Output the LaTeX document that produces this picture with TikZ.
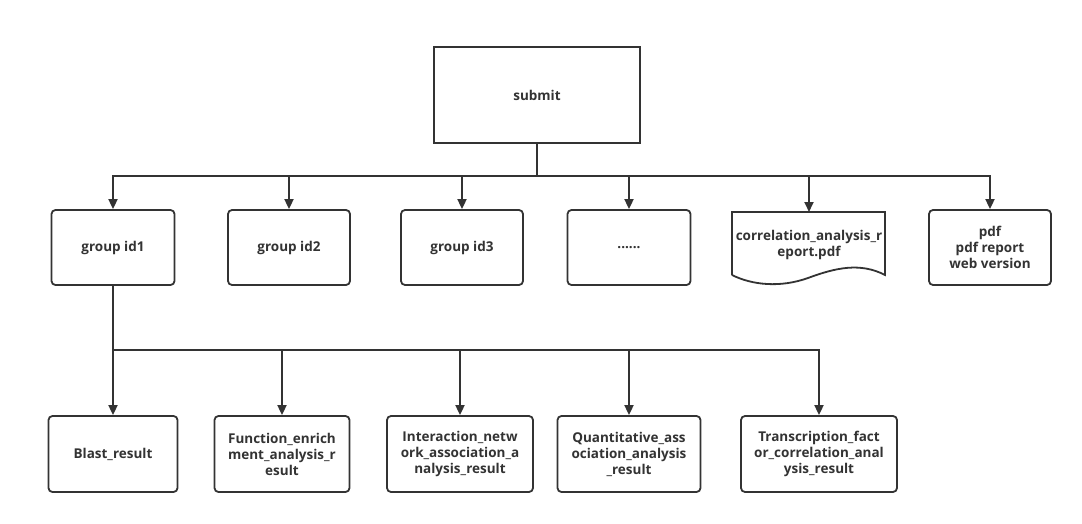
\documentclass[tikz,border=0pt]{standalone}
\usepackage{fontspec}
\setmainfont{Open Sans}
\usetikzlibrary{arrows.meta}
\definecolor{ink}{HTML}{333333}
\tikzset{
  txt/.style={font=\bfseries\fontsize{13.5}{16}\selectfont, text=ink},
  box/.style={draw=ink, line width=1.8pt, rounded corners=4pt, align=center, inner sep=1pt, txt},
  sq/.style={draw=ink, line width=1.8pt, align=center, txt},
  plain/.style={align=center, inner sep=0pt, txt},
  ln/.style={draw=ink, line width=1.8pt},
  arr/.style={ln, -{Triangle[length=10pt,width=9pt]}}
}
\begin{document}
\begin{tikzpicture}[x=1pt,y=-1pt]
\useasboundingbox (0,0) rectangle (1082,524);
\node[sq, minimum width=206pt, minimum height=96pt] (submit) at (537,95) {submit};
% row 1
\node[box, minimum width=123pt, minimum height=75pt] (g1) at (113,247.5) {group id1};
\node[box, minimum width=122pt, minimum height=75pt] (g2) at (289,247.5) {group id2};
\node[box, minimum width=122pt, minimum height=75pt] (g3) at (462,247.5) {group id3};
\node[box, minimum width=123pt, minimum height=75pt] (g4) at (629,247.5) {......};
\node[plain, minimum width=153pt, minimum height=71pt] (doc) at (809,247.5) {};
\node[plain] (doctext) at (809,245) {correlation\_analysis\_r\\eport.pdf};
\draw[ln] (732,275) -- (732,212) -- (885,212) -- (885,275)
  .. controls (860,262) and (835,268) .. (808,278)
  .. controls (780,288) and (752,285) .. (732,275);
\node[box, minimum width=122pt, minimum height=75pt] (pdf) at (990,247.5) {pdf\\pdf report\\web version};
% row 2
\node[box, minimum width=129pt, minimum height=76pt] (r1) at (113,454) {Blast\_result};
\node[box, minimum width=135pt, minimum height=76pt] (r2) at (282,454) {Function\_enrich\\ment\_analysis\_r\\esult};
\node[box, minimum width=146pt, minimum height=76pt] (r3) at (460,454) {Interaction\_netw\\ork\_association\_a\\nalysis\_result};
\node[box, minimum width=143pt, minimum height=76pt] (r4) at (629,454) {Quantitative\_ass\\ociation\_analysis\\\_result};
\node[box, minimum width=156pt, minimum height=76pt] (r5) at (819,454) {Transcription\_fact\\or\_correlation\_anal\\ysis\_result};
% connectors top
\coordinate (b1) at (537,176);
\draw[ln] (submit.south) -- (b1);
\draw[arr] (b1) -| (g1.north);
\draw[arr] (b1) -| (g2.north);
\draw[arr] (b1) -| (g3.north);
\draw[arr] (b1) -| (g4.north);
\draw[arr] (b1) -| (809,212);
\draw[arr] (b1) -| (pdf.north);
% connectors bottom
\coordinate (b2) at (113,350);
\draw[ln] (g1.south) -- (b2);
\draw[arr] (b2) -- (r1.north);
\draw[arr] (b2) -| (r2.north);
\draw[arr] (b2) -| (r3.north);
\draw[arr] (b2) -| (r4.north);
\draw[arr] (b2) -| (r5.north);
\end{tikzpicture}
\end{document}
